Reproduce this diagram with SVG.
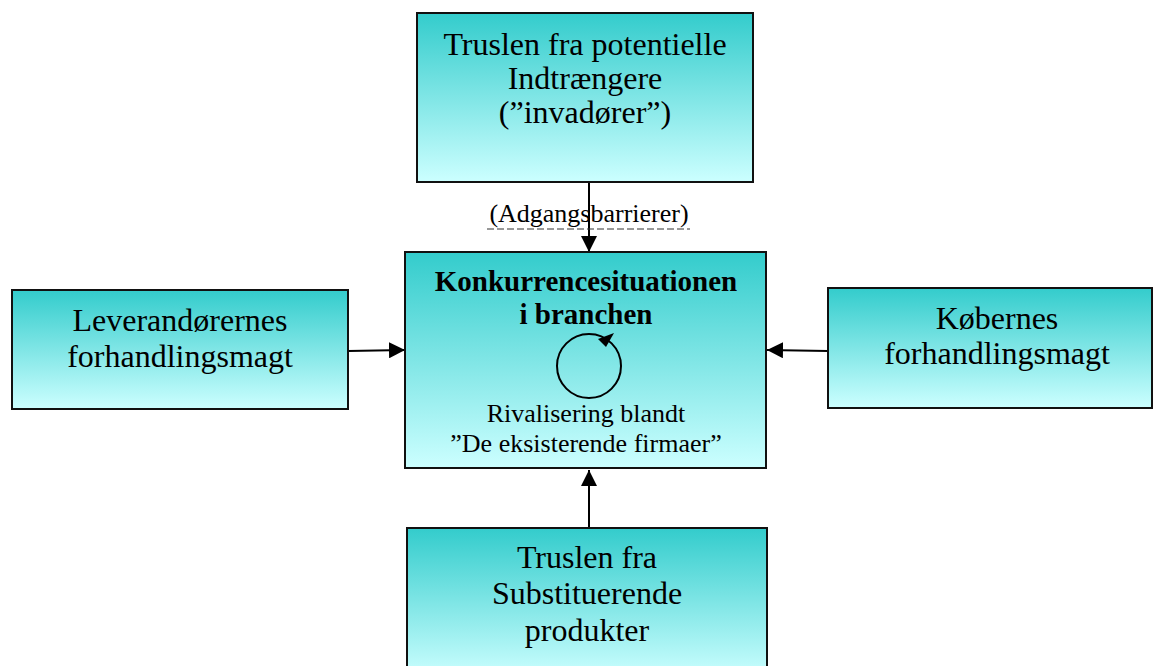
<svg xmlns="http://www.w3.org/2000/svg" width="1153" height="666" viewBox="0 0 1153 666">
<defs>
<linearGradient id="g" x1="0" y1="0" x2="0" y2="1">
<stop offset="0" stop-color="#33CCCC"/>
<stop offset="1" stop-color="#CCFFFF"/>
</linearGradient>
<marker id="ah2" markerWidth="16" markerHeight="16" refX="16" refY="8" orient="auto" markerUnits="userSpaceOnUse" viewBox="0 0 16 16">
<path d="M0,0 L16,8 L0,16 Z" fill="#000"/>
</marker>
</defs>
<style>
.box{fill:url(#g);stroke:#111;stroke-width:2}
.t{font-family:"Liberation Serif","Times New Roman",serif;font-size:32px;fill:#000;text-anchor:middle}
.s{font-family:"Liberation Serif","Times New Roman",serif;font-size:26px;fill:#000;text-anchor:middle}
.b{font-family:"Liberation Serif","Times New Roman",serif;font-size:29px;font-weight:bold;fill:#000;text-anchor:middle}
.c{stroke:#000;stroke-width:2;fill:none;marker-end:url(#ah2)}
</style>
<g id="connectors">
<line class="c" x1="589" y1="182" x2="589" y2="252"/>
<line class="c" x1="348" y1="351" x2="405" y2="350"/>
<line class="c" x1="828" y1="351" x2="767" y2="350"/>
<line class="c" x1="589" y1="528" x2="589" y2="470"/>
<text class="s" x="589" y="222">(Adgangsbarrierer)</text>
<line x1="487" y1="229" x2="690" y2="229" stroke="#333" stroke-width="1" stroke-dasharray="7,3"/>
</g>
<g id="top">
<rect class="box" x="417" y="13" width="336" height="169"/>
<text class="t" x="585" y="55">Truslen fra potentielle</text>
<text class="t" x="585" y="89">Indtrængere</text>
<text class="t" x="585" y="123">(”invadører”)</text>
</g>
<g id="center">
<rect class="box" x="405" y="252" width="361" height="216"/>
<text class="b" x="586" y="291">Konkurrencesituationen</text>
<text class="b" x="586" y="324">i branchen</text>
<circle cx="589" cy="366" r="32" fill="none" stroke="#000" stroke-width="2"/>
<polygon points="598,339 614,333 606,347" fill="#000"/>
<text class="s" x="586" y="422">Rivalisering blandt</text>
<text class="s" x="586" y="452">”De eksisterende firmaer”</text>
</g>
<g id="left">
<rect class="box" x="12" y="290" width="336" height="119"/>
<text class="t" x="180" y="331">Leverandørernes</text>
<text class="t" x="180" y="367">forhandlingsmagt</text>
</g>
<g id="right">
<rect class="box" x="828" y="288" width="324" height="120"/>
<text class="t" x="997" y="329">Købernes</text>
<text class="t" x="997" y="364">forhandlingsmagt</text>
</g>
<g id="bottom">
<rect class="box" x="407" y="528" width="360" height="150"/>
<text class="t" x="587" y="568">Truslen fra</text>
<text class="t" x="587" y="604">Substituerende</text>
<text class="t" x="587" y="641">produkter</text>
</g>
</svg>
